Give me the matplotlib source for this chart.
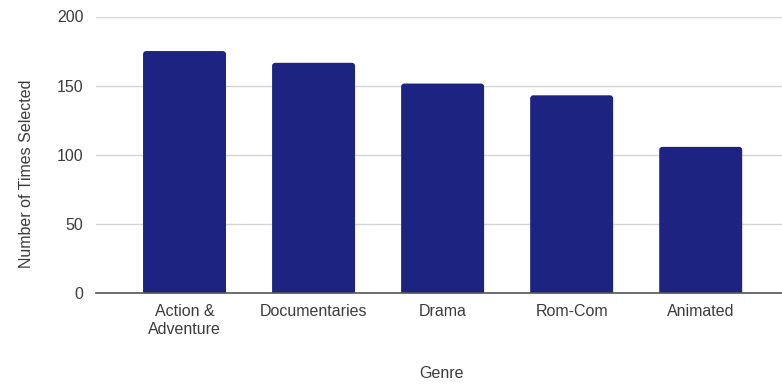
import numpy as np
import matplotlib.pyplot as plt
from matplotlib.patches import FancyBboxPatch
plt.rcParams['font.family'] = ['Liberation Sans', 'DejaVu Sans']

genres = ['Action &\nAdventure', 'Documentaries', 'Drama', 'Rom-Com', 'Animated']
times_selected = [175, 166.5, 151.5, 143, 105.7]
y_ticks = [0, 50, 100, 150, 200]

bar_color = '#1d2380'
text_color = '#3c3c3c'

fig = plt.figure(figsize=(7.82, 3.84), dpi=100)
ax = fig.add_axes([96 / 782, 91 / 384, 686 / 782, 276.5 / 384])

x = np.arange(len(genres))
bars = ax.bar(x, times_selected, width=0.643, color=bar_color, zorder=3)

ax.set_xlim(-0.686, 4.63)
ax.set_ylim(0, 200)

# swap the plain bars for ones with slightly rounded corners
aspect = (686 / 5.316) / (276.5 / 200)
for b in bars:
    b.set_visible(False)
    p = FancyBboxPatch((b.get_x(), -5), b.get_width(), b.get_height() + 5,
                       boxstyle='round,pad=0,rounding_size=0.024',
                       mutation_aspect=aspect, facecolor=bar_color,
                       edgecolor='none', zorder=3)
    ax.add_patch(p)

ax.set_yticks(y_ticks)
ax.set_xticks(x)
ax.set_xticklabels(genres, fontsize=11.5, color=text_color, linespacing=1.25)
ax.tick_params(axis='y', length=0, pad=9, labelsize=11.5, labelcolor=text_color)
ax.tick_params(axis='x', length=0, pad=8)

ax.grid(axis='y', color='#d4d4d4', linewidth=1, zorder=0)
for s in ['top', 'right', 'left']:
    ax.spines[s].set_visible(False)
ax.spines['bottom'].set_color('#555555')
ax.spines['bottom'].set_linewidth(1.2)
ax.spines['bottom'].set_zorder(4)

fig.text(27 / 782, 1 - 174 / 384, 'Number of Times Selected', rotation=90,
         ha='center', va='center', fontsize=11.5, color=text_color)
fig.text(442 / 782, 1 - 374 / 384, 'Genre', ha='center', va='center',
         fontsize=11.5, color=text_color)

fig.savefig('out.png', dpi=100)
